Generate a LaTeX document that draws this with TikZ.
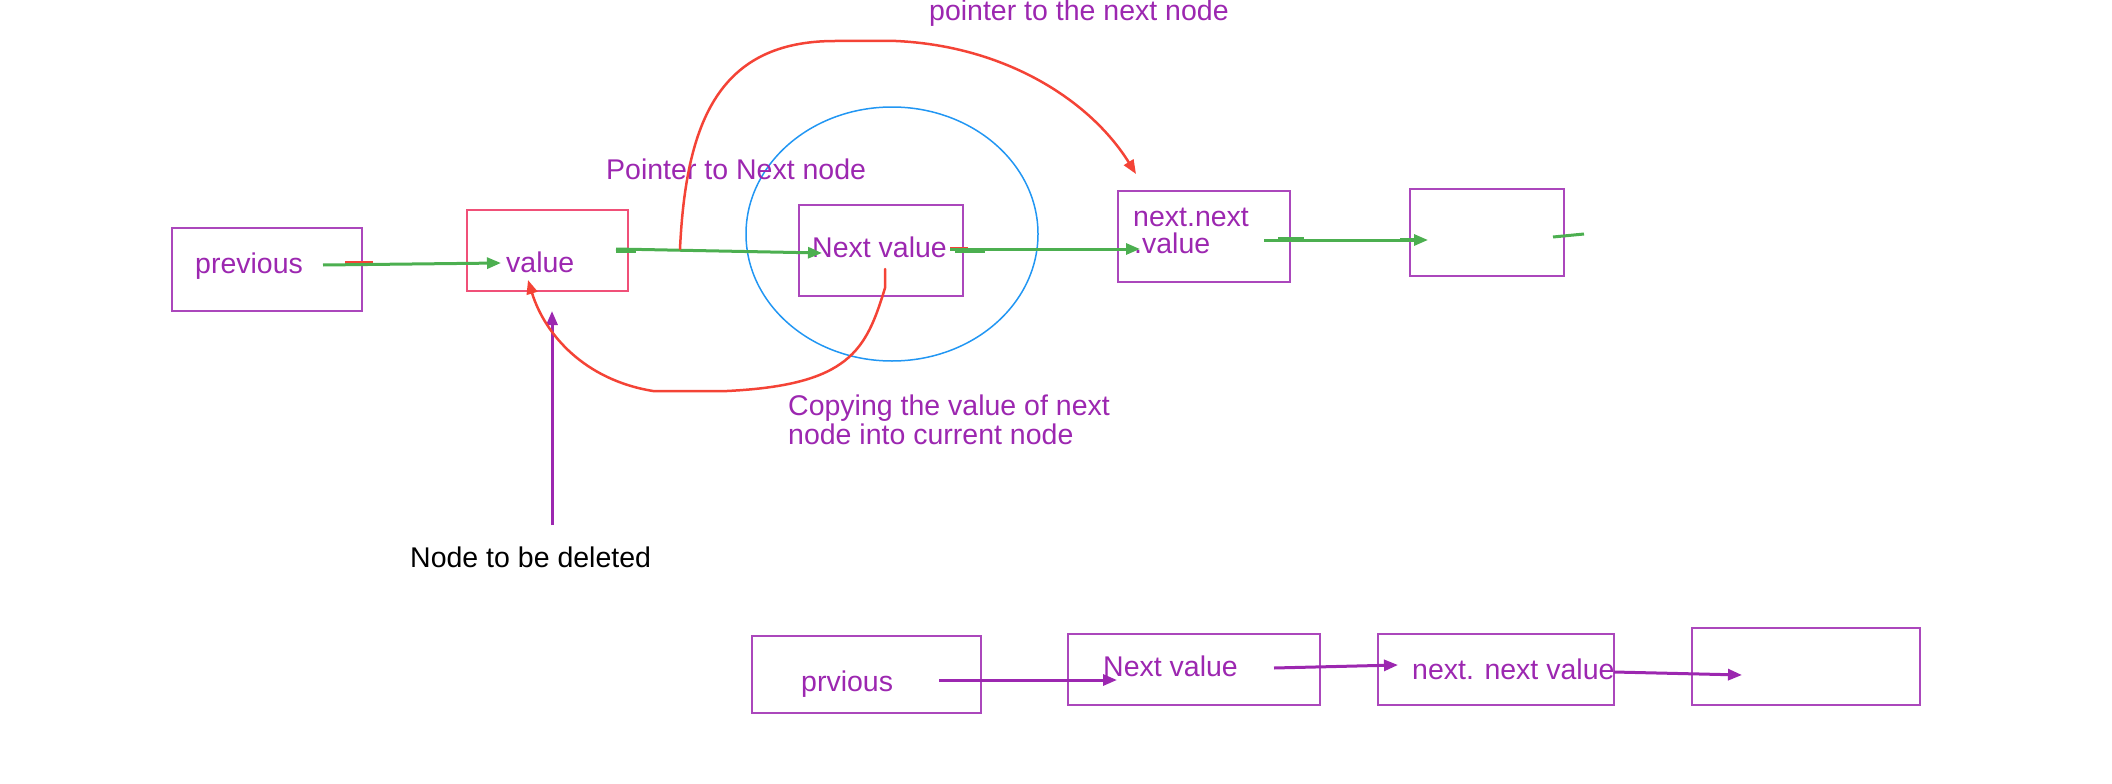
\documentclass[tikz,border=0pt]{standalone}
\usepackage{fontspec}
\setmainfont{Liberation Sans}
\usetikzlibrary{arrows.meta}
\definecolor{pur}{RGB}{156,39,176}
\definecolor{boxpur}{RGB}{171,71,188}
\definecolor{grn}{RGB}{76,175,80}
\definecolor{rd}{RGB}{244,67,54}
\definecolor{blu}{RGB}{33,150,243}
\definecolor{pinkb}{RGB}{240,80,120}
\begin{document}
\begin{tikzpicture}[x=1pt,y=-1pt,
  box/.style={draw=boxpur,line width=2pt},
  lbl/.style={anchor=base west,inner sep=0pt,text=pur,font=\fontsize{28.5}{29}\selectfont},
  garrow/.style={draw=grn,line width=3pt,-{Triangle[length=14pt,width=11pt]}},
  parrow/.style={draw=pur,line width=3pt,-{Triangle[length=14pt,width=11pt]}},
  rarrow/.style={draw=rd,line width=2.5pt,line cap=round,line join=round,-{Triangle[length=14pt,width=11pt]}}]
\useasboundingbox (0,0) rectangle (2112,784);
% top row boxes
\draw[box] (172,228) rectangle (362,311);
\draw[draw=pinkb,line width=2pt] (467,210) rectangle (628,291);
\draw[box] (799,205) rectangle (963,296);
\draw[box] (1118,191) rectangle (1290,282);
\draw[box] (1410,189) rectangle (1564,276);
\draw[blu,line width=1.5pt] (892,234) ellipse [x radius=146, y radius=127];
% labels
\node[lbl] (tprev) at (195,273) {previous};
\node[lbl] (tval) at (506,272) {value};
\node[lbl] (tnext) at (812,257) {Next value};
\node[lbl] (tnn1) at (1133,226) {next.next};
\node[lbl] (tnn2) at (1134,253) {.value};
\node[lbl] (tptr) at (606,179) {Pointer to Next node};
\node[lbl] (tptr2) at (929,21) {pointer to the next node};
\node[lbl,align=left,anchor=north west] (tcopy) at (788,395) {Copying the value of next\\node into current node};
\node[lbl,text=black] (tdel) at (410,567) {Node to be deleted};
% coordinates for connectors
\coordinate (g1s) at (323,265); \coordinate (g1e) at (501,263);
\coordinate (g2s) at (616,249); \coordinate (g2e) at (822,253);
\coordinate (g3s) at (950,249); \coordinate (g3e) at (1140,249);
\coordinate (g4s) at (1264,240); \coordinate (g4e) at (1428,240);
\coordinate (g5s) at (1553,237); \coordinate (g5e) at (1584,234);
\coordinate (ps) at (552,525); \coordinate (pe) at (552,311);
\coordinate (r1s) at (680,249); \coordinate (r1t) at (835,41); \coordinate (r1u) at (896,41); \coordinate (r1e) at (1136,174);
\coordinate (r2s) at (885,269); \coordinate (r2a) at (885,288); \coordinate (r2b) at (727,391); \coordinate (r2c) at (653,391); \coordinate (r2e) at (528,280);
% small red stubs
\draw[rd,line width=3pt] (345,262) -- (373,262);
\draw[rd,line width=2.5pt] (950,248) -- (968,248);
% green arrows
\draw[garrow] (g1s) -- (g1e);
\draw[garrow] (g2s) -- (g2e);
\draw[grn,line width=3pt] (616,251) -- (636,251);
\draw[garrow] (g3s) -- (g3e);
\draw[grn,line width=3pt] (955,251) -- (985,251);
\draw[garrow] (g4s) -- (g4e);
\draw[grn,line width=3pt] (1278,238) -- (1304,238);
\draw[grn,line width=3pt] (1400,239) -- (1418,239);
\draw[grn,line width=3pt] (g5s) -- (g5e);
% purple arrow up
\draw[parrow] (ps) -- (pe);
% red curves
\draw[rarrow] (r1s) .. controls (686,120) and (720,41) .. (r1t) -- (r1u) .. controls (1005,46) and (1090,100) .. (r1e);
\draw[rarrow] (r2s) -- (r2a) .. controls (866,350) and (850,385) .. (r2b) -- (r2c) .. controls (585,380) and (545,335) .. (r2e);
% bottom row
\draw[box] (752,636) rectangle (981,713);
\draw[box] (1068,634) rectangle (1320,705);
\draw[box] (1378,634) rectangle (1614,705);
\draw[box] (1692,628) rectangle (1920,705);
\node[lbl] (bprev) at (801,691) {prvious};
\node[lbl] (bnext) at (1103,676) {Next value};
\node[lbl] (bnn) at (1412,679) {next. next value};
\coordinate (b1s) at (939,680); \coordinate (b1e) at (1117,680);
\coordinate (b2s) at (1274,668); \coordinate (b2e) at (1398,665);
\coordinate (b3s) at (1614,672); \coordinate (b3e) at (1742,675);
\draw[parrow] (b1s) -- (b1e);
\draw[parrow] (b2s) -- (b2e);
\draw[parrow] (b3s) -- (b3e);
\end{tikzpicture}
\end{document}
